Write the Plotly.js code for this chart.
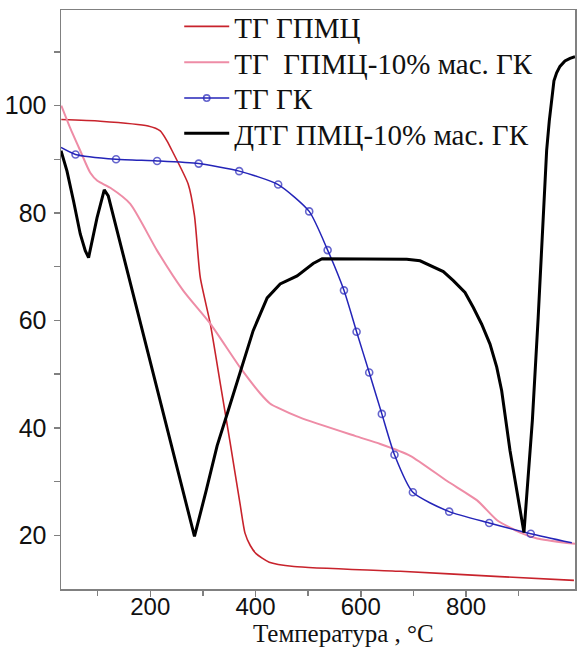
<!DOCTYPE html>
<html><head><meta charset="utf-8">
<script src="https://cdn.plot.ly/plotly-3.0.1.min.js"></script>
<style>html,body{margin:0;padding:0;background:#fff}</style>
</head><body><div id="chart" style="width:577px;height:649px"></div>
<script>
// ТГ ГПМЦ
const redT = [31, 105, 196, 219, 232, 242, 272, 284, 295, 314, 333, 352, 371, 380, 390, 401, 426, 473, 675, 864, 1005];
const redV = [97.4, 97.1, 96.2, 95.3, 93.4, 91.5, 85.4, 79.5, 68.0, 59.4, 48.3, 37.1, 25.6, 20.4, 18.1, 16.6, 15.0, 14.2, 13.3, 12.3, 11.6];
// ТГ ГПМЦ-10% мас. ГК
const pinkT = [31, 48, 67, 86, 99.5, 124, 162, 213, 263, 314, 371, 409, 428, 441, 485, 589, 637, 694, 764, 821, 859, 903, 935, 998, 1007];
const pinkV = [100.0, 95.8, 91.6, 87.5, 86.0, 84.7, 81.7, 73.0, 65.5, 59.4, 51.2, 46.4, 44.5, 43.8, 41.9, 38.5, 37.0, 34.8, 30.1, 26.5, 22.8, 20.5, 19.4, 18.5, 18.4];
// ТГ ГК
const blueT = [30.4, 58, 135, 213, 292, 369, 443, 502, 537, 568, 592, 616, 640, 664, 699, 768, 844, 923, 1001];
const blueV = [92.2, 90.9, 90.0, 89.7, 89.2, 87.8, 85.3, 80.3, 73.1, 65.6, 57.9, 50.3, 42.6, 35.0, 28.0, 24.4, 22.3, 20.3, 18.6];
// ДТГ ПМЦ-10% мас. ГК
const blackT = [30.4, 41.8, 54.3, 67.0, 76.5, 82.8, 98.8, 112.6, 120.2, 284, 306.2, 327.1, 348, 370.8, 395.5, 422.1, 446.8, 479, 509.5, 526.6,
  687.3, 712.6, 731.6, 756.8, 775.8, 798, 813.8, 829.7, 845.5, 858.3, 867.7, 877.2, 883.5, 910,
  926, 937, 953.1, 958.1, 962.6, 967, 972.1, 978.4, 987.9, 997.5, 1007];
const blackV = [91.6, 87.8, 82.2, 76.1, 73.0, 71.7, 79.1, 84.3, 83.2, 19.8, 28.3, 36.7, 43.2, 50.3, 58.1, 64.2, 66.8, 68.3, 70.6, 71.5,
  71.4, 71.1, 70.2, 69.1, 67.4, 65.2, 62.4, 59.3, 55.6, 51.3, 46.9, 40.7, 35.8, 20.5,
  41.4, 60.5, 91.6, 97.1, 101.4, 104.6, 106.1, 107.3, 108.3, 108.8, 109.1];

const names = ['ТГ ГПМЦ', 'ТГ  ГПМЦ-10% мас. ГК', 'ТГ ГК', 'ДТГ ПМЦ-10% мас. ГК'];
const xTickVals = [200, 400, 600, 800];
const yTickVals = [20, 40, 60, 80, 100];

const blueSizes = blueT.map((_, i) => (i === 0 || i === blueT.length - 1) ? 0 : 7);

const traces = [
  {x: redT, y: redV, name: names[0], legend: 'legend', mode: 'lines', line: {color: '#c8232c', width: 1.6, shape: 'spline', smoothing: 0.6}},
  {x: pinkT, y: pinkV, name: names[1], legend: 'legend2', mode: 'lines', line: {color: '#ee8ca6', width: 2, shape: 'spline', smoothing: 0.6}},
  {x: blueT, y: blueV, name: names[2], legend: 'legend3', mode: 'lines+markers', line: {color: '#2424b8', width: 1.5, shape: 'spline', smoothing: 0.6},
   marker: {symbol: 'circle-open', size: blueSizes, color: '#2424b8', line: {width: 1.6, color: '#2424b8'}}},
  {x: blackT, y: blackV, name: names[3], legend: 'legend4', mode: 'lines', line: {color: '#000000', width: 3}}
];

const axisCommon = {
  showgrid: false, zeroline: false, showline: true, linecolor: '#808080', linewidth: 1.5,
  mirror: true, ticks: 'outside', ticklen: 6, tickwidth: 1.5, tickcolor: '#808080',
  tickfont: {family: 'Liberation Sans, Arial, sans-serif', size: 25, color: '#111'}
};

function legendAt(yPx) {
  return {
    x: 0.23, y: (589 - yPx) / 580, xanchor: 'left', yanchor: 'middle',
    bgcolor: 'rgba(0,0,0,0)', itemwidth: 45,
    font: {family: 'Liberation Serif, Times New Roman, serif', size: 29, color: '#111'}
  };
}

const layout = {
  width: 577, height: 649,
  margin: {l: 61, r: 2, t: 9, b: 60},
  paper_bgcolor: '#fff', plot_bgcolor: '#fff',
  showlegend: true,
  xaxis: Object.assign({}, axisCommon, {
    range: [30.4, 1007], tickmode: 'array', tickvals: xTickVals, ticklabelstandoff: -10,
    tickfont: {family: 'Liberation Sans, Arial, sans-serif', size: 24, color: '#111'},
    minor: {tickvals: [100, 300, 500, 700, 900], ticks: 'outside', ticklen: 5, tickwidth: 1.5, tickcolor: '#808080'}
  }),
  yaxis: Object.assign({}, axisCommon, {
    range: [10, 117.8], tickmode: 'array', tickvals: yTickVals, ticklabelstandoff: 2,
    minor: {tickvals: [30, 50, 70, 90, 110], ticks: 'outside', ticklen: 6, tickwidth: 1.5, tickcolor: '#808080'}
  }),
  legend: legendAt(26.5),
  legend2: legendAt(62.5),
  legend3: legendAt(98.2),
  legend4: legendAt(133.5),
  annotations: [{
    text: 'Температура , °C', xref: 'paper', yref: 'paper', x: 0.549, y: -60 / 580,
    xanchor: 'center', yanchor: 'bottom', showarrow: false,
    font: {family: 'Liberation Serif, Times New Roman, serif', size: 25, color: '#111'}
  }]
};

Plotly.newPlot('chart', traces, layout, {staticPlot: true, displayModeBar: false});
</script>
</body></html>
